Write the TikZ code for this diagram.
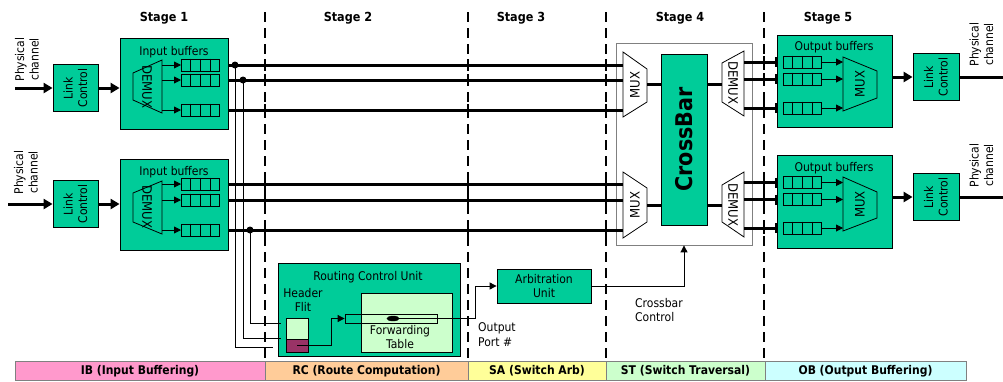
\documentclass[tikz,border=0pt]{standalone}
\usepackage{fontspec}
\setmainfont{DejaVu Sans}[FakeStretch=0.9]
\usetikzlibrary{arrows.meta,calc,shapes.geometric}
\definecolor{boxgreen}{RGB}{0,204,153}
\definecolor{lightgreen}{RGB}{204,255,204}
\definecolor{flitpurple}{RGB}{153,51,102}
\definecolor{ibpink}{RGB}{255,153,204}
\definecolor{rcorange}{RGB}{255,204,153}
\definecolor{sayellow}{RGB}{255,255,153}
\definecolor{stgreen}{RGB}{204,255,204}
\definecolor{obcyan}{RGB}{204,255,255}
\newcommand\bufqueue[3]{% name, left x, centre y
  \node[qbox,anchor=west] (#1) at (#2,#3) {};
  \foreach \f in {0.25,0.5,0.75}
    \draw[qline] ($(#1.north west)!\f!(#1.north east)$) -- ($(#1.south west)!\f!(#1.south east)$);
}
\begin{document}
\begin{tikzpicture}[x=1pt,y=-1pt,
  lbl/.style={font=\fontsize{12}{14.5}\selectfont, inner sep=0pt, align=center},
  muxlbl/.style={font=\fontsize{13}{15}\selectfont, inner sep=0pt},
  stagelbl/.style={font=\bfseries\fontsize{12.5}{15}\selectfont, inner sep=0pt},
  gbox/.style={draw=black, line width=0.8pt, fill=boxgreen, inner sep=0pt},
  qbox/.style={draw=black, line width=0.8pt, fill=boxgreen, minimum width=38pt, minimum height=12pt, inner sep=0pt},
  qline/.style={line width=0.8pt},
  bus/.style={line width=3pt},
  wire/.style={line width=0.9pt},
  smalltip/.style={-{Triangle[length=7pt,width=7pt]}},
  bigtip/.style={-{Triangle[length=9pt,width=10pt]}},
  bartip/.style={-{Bar[width=10pt,line width=2pt]}},
  stagedash/.style={line width=2.5pt, dash pattern=on 10pt off 6pt},
  crosstick/.style={line width=2.5pt},
  trap/.style={draw=black, line width=0.8pt},
  barbox/.style={draw=gray, line width=0.6pt, minimum height=19.5pt, inner sep=0pt, font=\bfseries\fontsize{12}{14}\selectfont},
]
\useasboundingbox (0,0) rectangle (1003,381);

% stage labels
\node[stagelbl] (s1) at (164,18) {Stage 1};
\node[stagelbl] (s2) at (348,18) {Stage 2};
\node[stagelbl] (s3) at (521,18) {Stage 3};
\node[stagelbl] (s4) at (680,18) {Stage 4};
\node[stagelbl] (s5) at (828,18) {Stage 5};

% stage separators
\foreach \x in {265,468,606,764}
  \draw[stagedash] (\x,12) -- (\x,360);

% ---------- input port 1 ----------
\node[lbl, rotate=90] (pc1t) at (27,59.5) {Physical\\channel};
\node[gbox, minimum width=45pt, minimum height=47pt] (lc1) at (75.5,88) {};
\node[lbl, rotate=90] at (lc1.center) {Link\\Control};
\node[gbox, minimum width=108pt, minimum height=91pt] (ib1) at (174,83.5) {};
\node[lbl] (ib1t) at (174,52) {Input buffers};
\draw[trap] (133,73) -- (162,60) -- (162,113) -- (133,100) -- cycle;
\node[muxlbl, rotate=-90] (dm1t) at (147,87) {DEMUX};
\coordinate (dmR) at (162,0);
\bufqueue{q11}{181}{65}
\bufqueue{q12}{181}{80}
\bufqueue{q13}{181}{110}
\foreach \q in {q11,q12,q13}
  \draw[wire,smalltip] (\q.west -| dmR) -- (\q.west);
\coordinate (pc1) at (15,88);
\draw[bus,bigtip] (pc1) -- (lc1.west);
\draw[bus,bigtip] (lc1.east) -- (lc1.east -| ib1.west);

% ---------- input port 2 ----------
\node[lbl, rotate=90] (pc2t) at (26,172.5) {Physical\\channel};
\node[gbox, minimum width=45pt, minimum height=47pt] (lc2) at (75.5,204) {};
\node[lbl, rotate=90] at (lc2.center) {Link\\Control};
\node[gbox, minimum width=108pt, minimum height=91pt] (ib2) at (174,204.5) {};
\node[lbl] (ib2t) at (174,172) {Input buffers};
\draw[trap] (133,193) -- (162,181) -- (162,234) -- (133,222) -- cycle;
\node[muxlbl, rotate=-90] (dm2t) at (147,207) {DEMUX};
\bufqueue{q21}{181}{184}
\bufqueue{q22}{181}{200}
\bufqueue{q23}{181}{230}
\foreach \q in {q21,q22,q23}
  \draw[wire,smalltip] (\q.west -| dmR) -- (\q.west);
\coordinate (pc2) at (8,204);
\draw[bus,bigtip] (pc2) -- (lc2.west);
\draw[bus,bigtip] (lc2.east) -- (lc2.east -| ib2.west);

% ---------- crossbar ----------
\node[draw=gray, line width=0.8pt, fill=white, minimum width=136pt, minimum height=202pt, inner sep=0pt] (xbox) at (684,144) {};
\node[gbox, minimum width=46pt, minimum height=171pt] (xbar) at (684,139.5) {};
\node[rotate=90, font=\bfseries\fontsize{23}{26}\selectfont, inner sep=0pt] at (xbar.center) {CrossBar};
\draw[trap, fill=white] (623,52) -- (647,69) -- (647,102) -- (623,117) -- cycle;
\node[muxlbl, rotate=90] (mx1t) at (635,85) {MUX};
\draw[trap, fill=white] (623,172) -- (647,188) -- (647,222) -- (623,238) -- cycle;
\node[muxlbl, rotate=90] (mx2t) at (635,205) {MUX};
\draw[trap, fill=white] (722,63) -- (744,51) -- (744,116) -- (722,102) -- cycle;
\node[muxlbl, rotate=-90] (dx1t) at (733,83) {DEMUX};
\draw[trap, fill=white] (722,185) -- (744,172) -- (744,237) -- (722,222) -- cycle;
\node[muxlbl, rotate=-90] (dx2t) at (733,205) {DEMUX};
\coordinate (mxL) at (623,0);
\coordinate (mxR1) at (647,84);
\coordinate (mxR2) at (647,205);
\coordinate (dxL1) at (722,84);
\coordinate (dxL2) at (722,205);
\coordinate (dxR) at (744,0);
\draw[bus] (mxR1) -- (mxR1 -| xbar.west);
\draw[bus] (mxR2) -- (mxR2 -| xbar.west);
\draw[bus] (dxL1 -| xbar.east) -- (dxL1);
\draw[bus] (dxL2 -| xbar.east) -- (dxL2);

% input buffer -> crossbar buses
\foreach \q/\b in {q11/ib1,q12/ib1,q13/ib1,q21/ib2,q22/ib2,q23/ib2}
  \draw[bus] (\q.east -| \b.east) -- (\q.east -| mxL);
\foreach \y in {65,80,110,184,200,230}
  \foreach \x in {265,468,606}
    \draw[crosstick] (\x,\y-6) -- (\x,\y+6);

% ---------- output port 1 ----------
\node[gbox, minimum width=115pt, minimum height=92pt] (ob1) at (834.5,81) {};
\node[lbl] (ob1t) at (834,47) {Output buffers};
\bufqueue{o11}{783}{62}
\bufqueue{o12}{783}{79}
\bufqueue{o13}{783}{108}
\draw[trap] (843,57) -- (877,71) -- (877,98) -- (843,111) -- cycle;
\node[muxlbl, rotate=90] (om1t) at (860,84) {MUX};
\coordinate (omL) at (843,0);
\foreach \q in {o11,o12,o13}
  \draw[wire,smalltip] (\q.east) -- (\q.east -| omL);
\node[gbox, minimum width=46pt, minimum height=47pt] (lc3) at (936,77) {};
\node[lbl, rotate=90] at (lc3.center) {Link\\Control};
\draw[bus,bigtip] (ob1.east |- lc3.west) -- (lc3.west);
\coordinate (pc3) at (1003,77);
\draw[bus] (lc3.east) -- (pc3);
\node[lbl, rotate=90] (pc3t) at (981.5,44.5) {Physical\\channel};

% ---------- output port 2 ----------
\node[gbox, minimum width=115pt, minimum height=93pt] (ob2) at (834.5,201.5) {};
\node[lbl] (ob2t) at (834,168) {Output buffers};
\bufqueue{o21}{783}{182.5}
\bufqueue{o22}{783}{199.5}
\bufqueue{o23}{783}{228}
\draw[trap] (843,177) -- (877,192) -- (877,218) -- (843,231) -- cycle;
\node[muxlbl, rotate=90] (om2t) at (860,204.5) {MUX};
\foreach \q in {o21,o22,o23}
  \draw[wire,smalltip] (\q.east) -- (\q.east -| omL);
\node[gbox, minimum width=46pt, minimum height=47pt] (lc4) at (936,197) {};
\node[lbl, rotate=90] at (lc4.center) {Link\\Control};
\draw[bus,bigtip] (ob2.east |- lc4.west) -- (lc4.west);
\coordinate (pc4) at (1003,197);
\draw[bus] (lc4.east) -- (pc4);
\node[lbl, rotate=90] (pc4t) at (981.5,165.5) {Physical\\channel};

% crossbar -> output buffer buses
\foreach \q/\b in {o11/ob1,o12/ob1,o13/ob1,o21/ob2,o22/ob2,o23/ob2}
  \draw[bus,bartip] (\q.west -| dxR) -- (\q.west -| \b.west);
\foreach \y in {62,79,108,182.5,199.5,228}
  \draw[crosstick] (764,\y-6) -- (764,\y+6);

% ---------- routing control unit ----------
\node[gbox, minimum width=182pt, minimum height=93pt] (rcu) at (369,309.5) {};
\node[lbl] (rcut) at (368,277) {Routing Control Unit};
\node[lbl] (hft) at (303,300) {Header\\Flit};
\node[draw=black, line width=0.8pt, fill=lightgreen, minimum width=91pt, minimum height=59pt, inner sep=0pt] (ft) at (406.5,322.5) {};
\node[lbl] (ftt) at (400,337) {Forwarding\\Table};
\node[draw=black, line width=0.8pt, fill=lightgreen, minimum width=22pt, minimum height=21pt, inner sep=0pt] (hf) at (297,328.5) {};
\node[draw=black, line width=0.8pt, fill=flitpurple, minimum width=22pt, minimum height=13pt, inner sep=0pt] (hfp) at (297,345.5) {};
\node[draw=black, line width=0.8pt, minimum width=92pt, minimum height=9pt, inner sep=0pt] (fr) at (391,318.5) {};
\node[draw=black, fill=black, ellipse, minimum width=12pt, minimum height=5pt, inner sep=0pt] (el) at (393,318.5) {};
\coordinate (hfbend) at (331,345.5);
\draw[wire,smalltip] (hfp.center) -- (hfbend) |- (fr.west);

% header taps
\coordinate (dot1) at (235,65);
\coordinate (dot2) at (243,80);
\coordinate (dot3) at (250,230);
\coordinate (w1) at (273,347);
\coordinate (w2) at (281,338);
\coordinate (w3) at (281,323);
\draw[wire] (dot1) |- (w1);
\draw[wire] (dot2) |- (w2);
\draw[wire] (dot3) |- (w3);
\foreach \d in {dot1,dot2,dot3}
  \fill (\d) circle (3.5pt);

% ---------- arbitration ----------
\node[gbox, lbl, minimum width=94pt, minimum height=34pt] (arb) at (544,286) {Arbitration\\Unit};
\coordinate (opbend) at (475,318.5);
\draw[wire,smalltip] (el.center) -- (opbend) |- (arb.west);
\draw[wire,smalltip] (arb.east) -| (xbox.south);
\node[lbl, align=left, anchor=west] (opt) at (478,334.5) {Output\\Port \#};
\node[lbl, align=left, anchor=west] (xct) at (635,310) {Crossbar\\Control};

% ---------- pipeline bar ----------
\node[barbox, fill=ibpink, minimum width=250pt] (bib) at (140,370.75) {IB (Input Buffering)};
\node[barbox, fill=rcorange, minimum width=203pt] (brc) at (366.5,370.75) {RC (Route Computation)};
\node[barbox, fill=sayellow, minimum width=138pt] (bsa) at (537,370.75) {SA (Switch Arb)};
\node[barbox, fill=stgreen, minimum width=159pt] (bst) at (685.5,370.75) {ST (Switch Traversal)};
\node[barbox, fill=obcyan, minimum width=201pt] (bob) at (865.5,370.75) {OB (Output Buffering)};
\end{tikzpicture}
\end{document}
